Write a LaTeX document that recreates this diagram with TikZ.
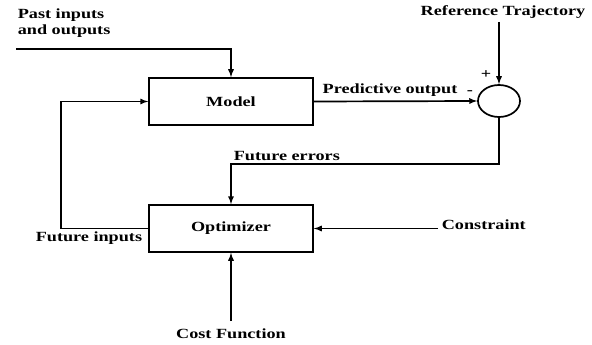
\documentclass[tikz,border=0pt]{standalone}
\usepackage{fontspec}
\setmainfont{Liberation Serif}[FakeStretch=1.3]
\usetikzlibrary{shapes.geometric}
\begin{document}
\begin{tikzpicture}[x=1pt, y=-1pt, >=latex, line width=1.7pt,
        font=\bfseries\fontsize{14}{16}\selectfont,
        block/.style={draw, rectangle, minimum width=164pt, minimum height=47pt, inner sep=0},
        txt/.style={inner sep=0}]
        \useasboundingbox (0,0) rectangle (592,345);
        % blocks
        \node[block] (model) at (231,101.5) {Model};
        \node[block] (opt) at (231,228.5) {Optimizer};
        \node[draw, ellipse, minimum width=42pt, minimum height=32pt, inner sep=0] (sum) at (499,101) {};
        % texts
        \node[txt, align=left, anchor=west] (past) at (17,23) {Past inputs\\and outputs};
        \node[txt] (ref) at (503,12) {Reference Trajectory};
        \node[txt] (pred) at (390,90) {Predictive output};
        \node[txt] (minus) at (470,93) {-};
        \node[txt] (plus) at (486,75) {+};
        \node[txt, anchor=west] (err) at (233,156) {Future errors};
        \node[txt, anchor=east] (fin) at (143,238) {Future inputs};
        \node[txt, anchor=west] (con) at (441,225) {Constraint};
        \node[txt] (cost) at (231,334) {Cost Function};
        % turning points
        \coordinate (pastin) at (16,49);
        \coordinate (refin) at (499,22);
        \coordinate (errturn) at (499,164);
        \coordinate (finturn) at (61,228.5);
        \coordinate (conin) at (438,228.5);
        \coordinate (costin) at (231,321);
        % connectors
        \draw[->] (pastin) -| (model.north);
        \draw[->] (refin) -- (sum.north);
        \draw[->] (model.east) -- (sum.west);
        \draw[->] (sum.south) -- (errturn) -| (opt.north);
        \draw[->] (opt.west) -- (finturn) |- (model.west);
        \draw[->] (conin) -- (opt.east);
        \draw[->] (costin) -- (opt.south);
\end{tikzpicture}
\end{document}
